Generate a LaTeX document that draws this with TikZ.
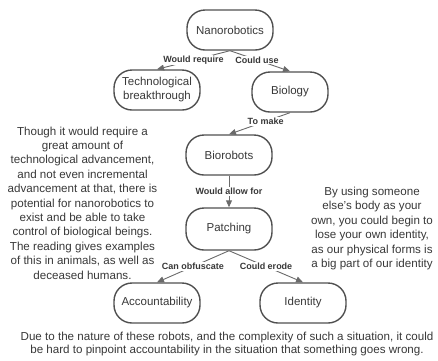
\documentclass[tikz,border=0pt]{standalone}
\usepackage{fontspec}
\setmainfont{Liberation Sans}
\usetikzlibrary{arrows.meta}
\definecolor{boxgray}{HTML}{505050}
\definecolor{linegray}{HTML}{6A6A6A}
\definecolor{textgray}{HTML}{383838}

\begin{document}
\begin{tikzpicture}[x=1pt,y=-1pt,
    topic/.style={draw=boxgray,line width=1.4pt,rounded corners=18pt,minimum width=86pt,minimum height=40pt,inner sep=2pt,align=center,text=textgray,font=\fontsize{11.5}{14}\selectfont},
    link/.style={draw=linegray,line width=0.9pt,-{Triangle[length=7pt,width=6pt]}},
    linklabel/.style={fill=white,inner sep=1pt,text=textgray,font=\bfseries\fontsize{9}{10}\selectfont},
    note/.style={align=center,text=textgray,font=\fontsize{11.6}{14.4}\selectfont}]
      \useasboundingbox (0,0) rectangle (438,360);
      \node[topic] (nano) at (230,30) {Nanorobotics};
      \node[topic] (tech) at (157,90) {Technological\\breakthrough};
      \node[topic,minimum width=76pt] (biology) at (290,92) {Biology};
      \node[topic] (biorobots) at (229,155) {Biorobots};
      \node[topic,minimum height=42pt] (patching) at (229,229) {Patching};
      \node[topic] (account) at (157,303) {Accountability};
      \node[topic] (identity) at (303,303) {Identity};
      \draw[link] (nano.south) -- node[linklabel] {Would require} (tech.north);
      \draw[link] (nano.south) -- node[linklabel,pos=0.45] {Could use} (biology.north);
      \draw[link] (biology.south) -- node[linklabel,pos=0.4] {To make} (biorobots.north);
      \draw[link] (biorobots.south) -- node[linklabel] {Would allow for} (patching.north);
      \draw[link] (patching.south) -- node[linklabel] {Can obfuscate} (account.north);
      \draw[link] (patching.south) -- node[linklabel] {Could erode} (identity.north);
      \node[note] (leftnote) at (82.5,203) {Though it would require a\\great amount of\\technological advancement,\\and not even incremental\\advancement at that, there is\\potential for nanorobotics to\\exist and be able to take\\control of biological beings.\\The reading gives examples\\of this in animals, as well as\\deceased humans.};
      \node[note] (rightnote) at (372,228.5) {By using someone\\else's body as your\\own, you could begin to\\lose your own identity,\\as our physical forms is\\a big part of our identity};
      \node[note,font=\fontsize{11.6}{13.4}\selectfont] (bottomnote) at (227,344) {Due to the nature of these robots, and the complexity of such a situation, it could\\be hard to pinpoint accountability in the situation that something goes wrong.};
    \end{tikzpicture}
\end{document}
